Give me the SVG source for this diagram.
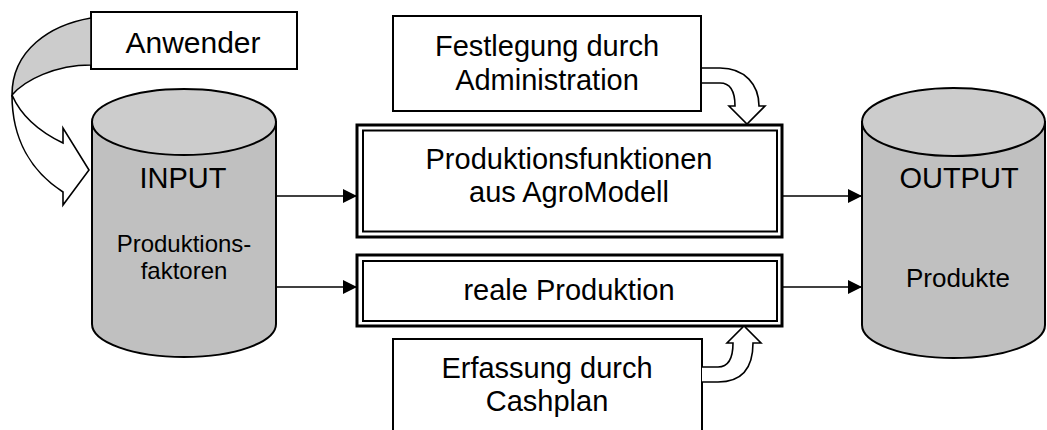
<svg xmlns="http://www.w3.org/2000/svg" width="1047" height="430" viewBox="0 0 1047 430">
<style>
text{font-family:"Liberation Sans",Arial,sans-serif;fill:#000;text-anchor:middle}
.big{font-size:29px}
.mid{font-size:26px}
.sm{font-size:24px}
.box{fill:#fff;stroke:#000;stroke-width:2}
.cylb{fill:#c0c0c0;stroke:#000;stroke-width:2}
.cylt{fill:#cccccc;stroke:#000;stroke-width:2}
.blk{fill:#fff;stroke:#000;stroke-width:1.6;stroke-linejoin:miter}
.conn{stroke:#000;stroke-width:1.6;fill:none}
.outer{fill:#fff;stroke:#000;stroke-width:3}
.inner{fill:none;stroke:#000;stroke-width:2}
</style>
<defs>
<marker id="ah" markerWidth="14" markerHeight="14" refX="13" refY="7" orient="auto" markerUnits="userSpaceOnUse">
<path d="M0,0 L14,7 L0,14 Z" fill="#000"/>
</marker>
</defs>

<g id="anwender">
<rect class="box" x="91" y="12" width="206" height="57"/>
<text class="big" x="193" y="53" style="font-size:30px">Anwender</text>
</g>

<g id="anwender-arrow">
<path class="blk" d="M12,95 C12,140 32,172 63,192 L63,205 L89,170 L63,128 L63,143 C42,133 22,118 12,95 Z"/>
<path class="blk" style="fill:#cccccc" d="M91,18 C50,25 12,50 12,95 C25,80 55,65 91,65 Z"/>
</g>

<g id="input">
<path class="cylb" d="M92,122 L92,324 A92,33 0 0 0 276,324 L276,122 Z"/>
<ellipse class="cylt" cx="184" cy="122" rx="92" ry="33"/>
<text class="big" x="183" y="188">INPUT</text>
<text class="sm" x="184" y="252">Produktions-</text>
<text class="sm" x="184" y="279">faktoren</text>
</g>

<g id="output">
<path class="cylb" d="M862,122 L862,325 A91.5,33 0 0 0 1045,325 L1045,122 Z"/>
<ellipse class="cylt" cx="953.5" cy="122" rx="91.5" ry="34"/>
<text class="big" x="959" y="188">OUTPUT</text>
<text class="mid" x="958" y="287">Produkte</text>
</g>

<g id="festlegung">
<rect class="box" x="393" y="16" width="308" height="95"/>
<text class="big" x="547" y="56">Festlegung durch</text>
<text class="big" x="547" y="90">Administration</text>
</g>

<g id="festlegung-arrow">
<path class="blk" d="M702,68 L720,68 C745,68 759,85 759,106 L765,106 L747,124 L729,106 L735,106 C735,92 731,83 720,83 L702,83"/>
</g>

<g id="produktionsfunktionen">
<rect class="outer" x="357" y="125" width="425" height="112"/>
<rect class="inner" x="363" y="130.5" width="414" height="101"/>
<text class="big" x="569" y="169">Produktionsfunktionen</text>
<text class="big" x="569" y="202">aus AgroModell</text>
</g>

<g id="reale-produktion">
<rect class="outer" x="357" y="255" width="425" height="71"/>
<rect class="inner" x="363" y="261" width="414" height="60"/>
<text class="big" x="569" y="300">reale Produktion</text>
</g>

<g id="erfassung">
<rect class="box" x="393" y="339" width="309" height="110"/>
<text class="big" x="547" y="378">Erfassung durch</text>
<text class="big" x="547" y="411">Cashplan</text>
</g>

<g id="erfassung-arrow">
<path class="blk" d="M702,367 L718,367 C728,367 733,358 733,343 L727,343 L744,326 L761,343 L753,343 C753,370 740,382 718,382 L702,382"/>
</g>

<g id="connectors">
<line class="conn" x1="276" y1="196" x2="356" y2="196" marker-end="url(#ah)"/>
<line class="conn" x1="276" y1="287" x2="356" y2="287" marker-end="url(#ah)"/>
<line class="conn" x1="782" y1="196" x2="861" y2="196" marker-end="url(#ah)"/>
<line class="conn" x1="782" y1="287" x2="861" y2="287" marker-end="url(#ah)"/>
</g>
</svg>
